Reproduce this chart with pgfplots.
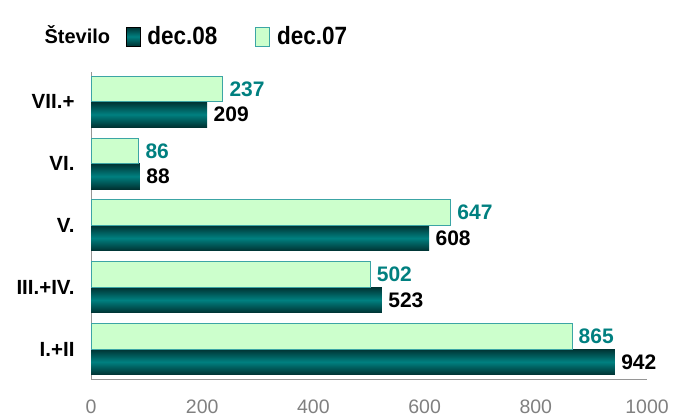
\documentclass[border=0pt]{standalone}
\usepackage{fontspec}
\setmainfont{Liberation Sans}
\newfontfamily\legfont[FakeStretch=0.9]{Liberation Sans}
\newfontfamily\plainfont{Liberation Sans}
\usepackage{pgfplots}
\pgfplotsset{compat=1.18}
\definecolor{tealmid}{RGB}{0,128,128}
\definecolor{tealdark}{RGB}{0,50,50}
\definecolor{lightgr}{RGB}{204,255,204}
\definecolor{bord}{RGB}{60,165,165}
\definecolor{axgray}{RGB}{150,150,150}
\definecolor{tickgray}{RGB}{128,128,128}
\definecolor{labteal}{RGB}{0,128,128}
\pgfplotsset{
  boxlegend/.style={legend image code/.code={\draw[##1,/tikz/.cd] (0pt,-9.5pt) rectangle (14pt,9.5pt); \path (19pt,0pt);}},
  dec08/.style={xbar, bar shift=-12.75pt, draw=none, top color=tealdark, bottom color=tealdark, middle color=tealmid,
    nodes near coords, nodes near coords style={font=\bfseries\fontsize{21}{21}\selectfont, text=black, anchor=west, xshift=3pt},
    boxlegend},
}
\begin{document}
\begin{tikzpicture}[x=1pt,y=1pt]
\useasboundingbox (0,0) rectangle (674,419);
\begin{axis}[
  at={(91pt,39pt)}, anchor=south west,
  scale only axis, width=556pt, height=308pt,
  xmin=0, xmax=1000, ymin=-0.5, ymax=4.48,
  axis x line*=bottom, axis y line*=left,
  axis line style={-, axgray, line width=1pt},
  major tick length=0pt,
  xtick={0,200,...,1000},
  ytick={0,1,2,3,4},
  yticklabels={I.+II, III.+IV., V., VI., VII.+},
  /pgf/number format/assume math mode=true,
  /pgf/number format/1000 sep={},
  x tick label style={font=\fontsize{19.5}{19.5}\selectfont, text=tickgray, yshift=-16pt},
  y tick label style={font=\bfseries\fontsize{20.5}{20.5}\selectfont, text=black, xshift=-13pt},
  xbar, bar width=25.5pt,
  legend columns=3,
  legend style={at={(axis description cs:-0.0875,1.115)}, anchor=west, draw=none, fill=none,
    inner sep=0pt, font=\legfont\bfseries\fontsize{25}{25}\selectfont,
    /tikz/every even column/.append style={column sep=14pt}},
  legend cell align=left,
]
\addlegendimage{empty legend}
\addlegendentry{\raisebox{3pt}{\plainfont\bfseries\fontsize{20}{20}\selectfont Število}}
\addplot[dec08] coordinates {(942,0)};
\addlegendentry{dec.08\hspace{22pt}\null}
\addplot[dec08, forget plot] coordinates {(523,1)};
\addplot[dec08, forget plot] coordinates {(608,2)};
\addplot[dec08, forget plot] coordinates {(88,3)};
\addplot[dec08, forget plot] coordinates {(209,4)};
\addplot[xbar, bar shift=12.75pt, draw=bord, fill=lightgr, line width=0.8pt,
  nodes near coords, nodes near coords style={font=\bfseries\fontsize{21}{21}\selectfont, text=labteal, anchor=west, xshift=3pt},
  boxlegend]
  coordinates {(865,0) (502,1) (647,2) (86,3) (237,4)};
\addlegendentry{dec.07}
\end{axis}
\end{tikzpicture}
\end{document}
